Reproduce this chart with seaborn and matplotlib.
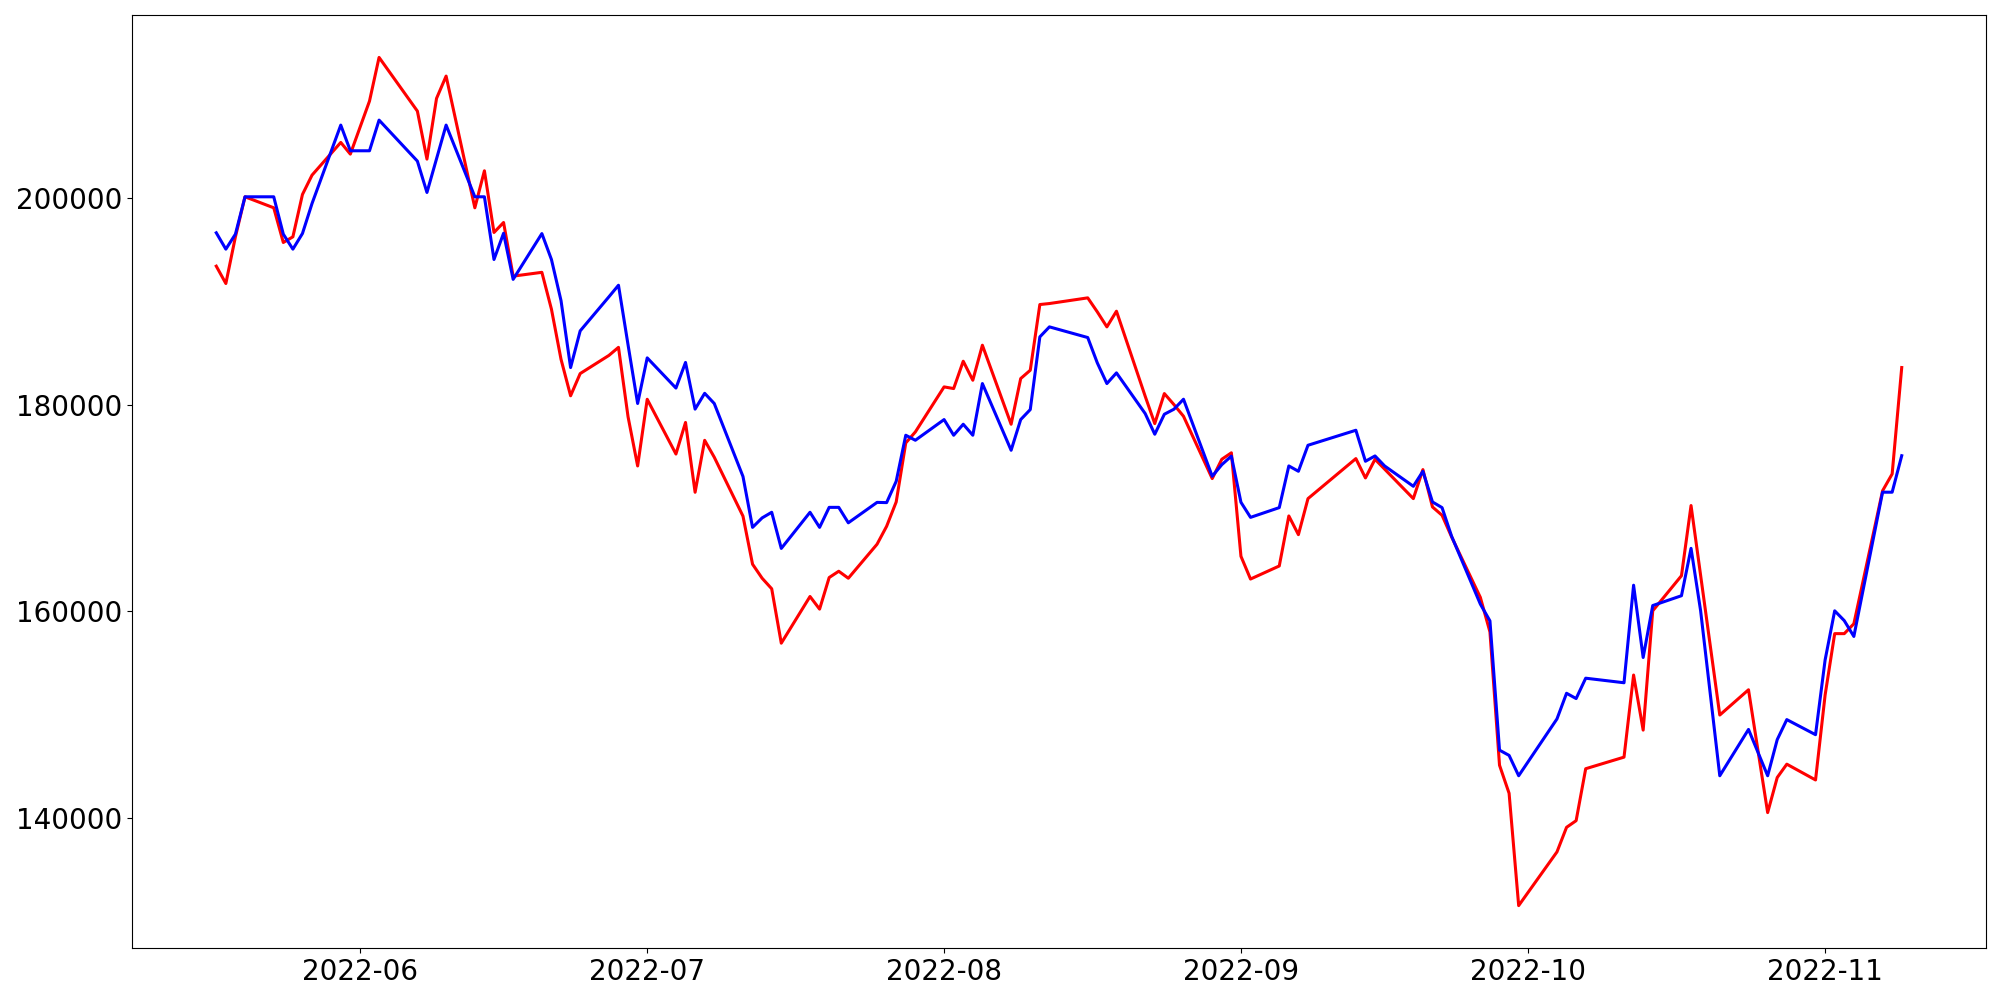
import matplotlib
matplotlib.use("Agg")
import matplotlib.pyplot as plt
import matplotlib.dates as mdates
from matplotlib.ticker import MultipleLocator
import seaborn as sns
import pandas as pd

# trading days (KRX calendar) between the first and last point
start, end = "2022-05-17", "2022-11-09"
holidays = ["2022-06-01", "2022-06-06", "2022-08-15", "2022-09-09",
            "2022-09-12", "2022-10-03", "2022-10-10"]

red_vals = [
    # May
    193417, 191738, 196257, 200131, 199066, 195708, 196257, 200357, 202229, 205393, 204263,
    # June
    209395, 213624, 208427, 203779, 209654, 211816, 199066, 202649, 196677, 197645,
    192450, 192820, 189250, 184400, 180870, 183020, 184776, 185558, 178832, 174076,
    # July
    180530, 175231, 178288, 171529, 176556, 174925, 169219, 164565, 163207, 162187,
    156922, 161440, 160217, 163274, 163885, 163207, 166500, 168236, 170593, 176306, 177371,
    # August
    181729, 181568, 184215, 182375, 185764, 178114, 182537, 183343, 189702, 189799,
    190348, 188992, 187540, 189057, 180826, 178179, 181084, 180018, 178889, 172852,
    174724, 175350,
    # September
    165331, 163130, 164394, 169236, 167428, 170915, 174788, 172916, 174723, 173770,
    170915, 173723, 170108, 169301, 167203, 161350, 158010, 145107, 142390, 131519,
    # October
    136717, 139095, 139740, 144768, 145889, 153838, 148505, 160054, 163451, 170245,
    163485, 156725, 149965, 152411, 146466, 140521, 143918, 145209, 143680,
    # November
    151900, 157845, 157845, 158797, 171672, 173302, 183604,
]

blue_vals = [
    # May
    196645, 195063, 196516, 200131, 200131, 196516, 195063, 196580, 199485, 207071, 204586,
    # June
    204586, 207555, 203585, 200551, 203811, 207071, 200131, 200131, 194062, 196600,
    192140, 196570, 194060, 190080, 183600, 187150, 190450, 191571, 185796, 180123,
    # July
    184539, 181617, 184097, 179579, 181108, 180123, 173057, 168131, 169049, 169592,
    166093, 169592, 168131, 170068, 170068, 168573, 170550, 170528, 172594, 177049, 176564,
    # August
    178566, 177049, 178114, 177049, 182052, 175596, 178566, 179535, 186571, 187540,
    186507, 184054, 182052, 183085, 179147, 177146, 179082, 179567, 180536, 173079,
    174200, 175030,
    # September
    170560, 169100, 170043, 174078, 173562, 176079, 177532, 174530, 175046, 174078,
    172109, 173562, 170592, 170043, 167267, 160700, 159080, 146567, 146058, 144088,
    # October
    149591, 152071, 151561, 153531, 153090, 162533, 155536, 160563, 161515, 166100,
    160054, 152071, 144088, 148573, 146331, 144088, 147587, 149523, 148063,
    # November
    155298, 160054, 159103, 157574, 171536, 171536, 175069,
]

dates = pd.bdate_range(start, end, freq="C", holidays=holidays)
df = pd.DataFrame({"date": dates, "red": red_vals, "blue": blue_vals})

fig, ax = plt.subplots(figsize=(20, 10), dpi=100)
sns.lineplot(data=df, x="date", y="red", color="red", linewidth=2.2, ax=ax)
sns.lineplot(data=df, x="date", y="blue", color="blue", linewidth=2.2, ax=ax)

ax.set_xlabel("")
ax.set_ylabel("")
ax.xaxis.set_major_locator(mdates.MonthLocator())
ax.xaxis.set_major_formatter(mdates.DateFormatter("%Y-%m"))
ax.yaxis.set_major_locator(MultipleLocator(20000))
ax.tick_params(labelsize=20)

fig.subplots_adjust(left=0.066, right=0.993, top=0.985, bottom=0.052)
fig.savefig("out.png", dpi=100)
